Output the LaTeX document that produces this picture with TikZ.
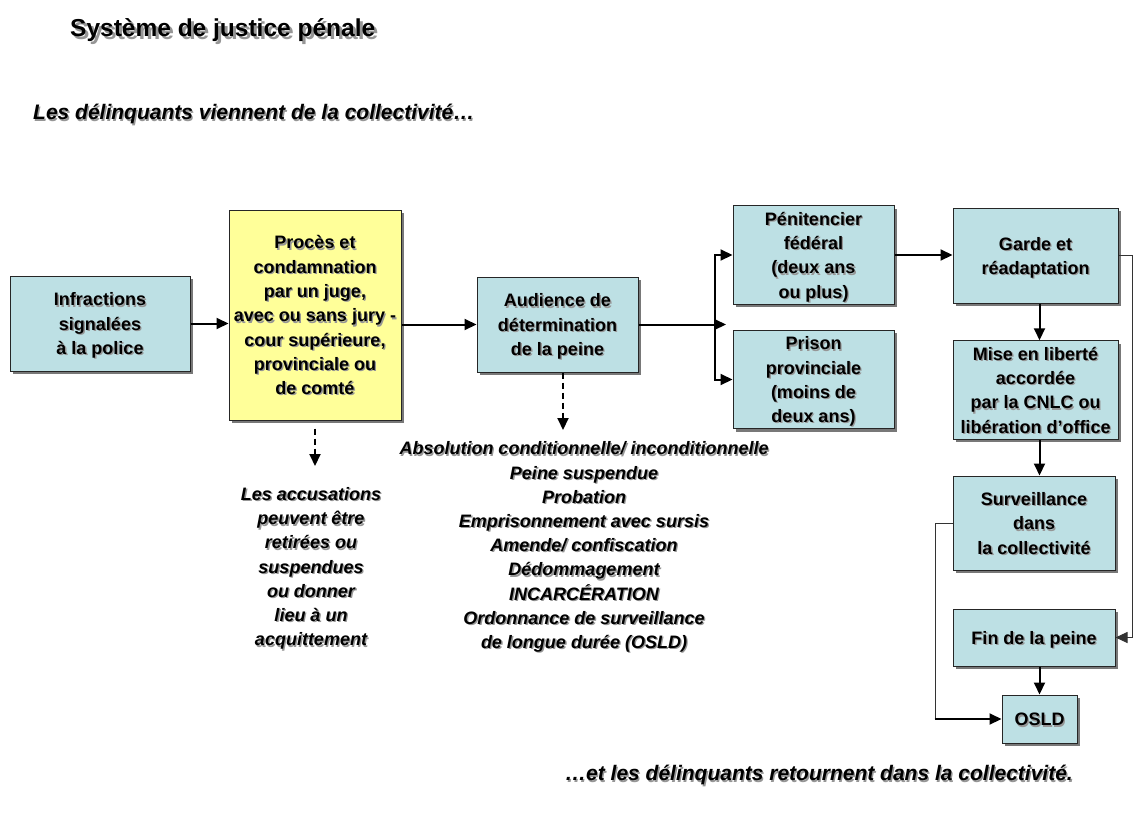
\documentclass[tikz,border=0pt]{standalone}
\usepackage{fontspec}
\setmainfont{Liberation Sans}
\usetikzlibrary{arrows.meta,shadows,calc}
\definecolor{boxblue}{RGB}{189,224,228}
\definecolor{boxyellow}{RGB}{255,255,153}
\definecolor{shadowgray}{RGB}{120,120,120}
\definecolor{txtshadow}{RGB}{150,150,150}
\newcommand\mlines[1]{\begin{tabular}[c]{@{}c@{}}#1\end{tabular}}
\newcommand\shtext[2][1.3pt]{\raisebox{-2.5pt}[\height][\depth]{\rlap{\kern#1\raisebox{-#1}{\color{txtshadow}\mlines{#2}}}\mlines{#2}}}
\tikzset{
  flowbox/.style={draw=black!85, line width=1pt, fill=boxblue,
    drop shadow={shadow xshift=3pt, shadow yshift=-3pt, fill=shadowgray, opacity=1},
    inner sep=0pt, font=\fontsize{18}{24.3}\selectfont\bfseries},
  yflowbox/.style={flowbox, fill=boxyellow},
  tip/.style={-{Triangle[length=12pt,width=11pt]}},
  conn/.style={line width=2pt, tip},
  plainc/.style={line width=2pt},
  thinc/.style={line width=1pt, draw=black!80},
  dashc/.style={conn, dash pattern=on 6pt off 4pt},
  lbl/.style={inner sep=0pt, font=\fontsize{18}{24.2}\selectfont\bfseries\itshape},
  headline/.style={inner sep=0pt, font=\fontsize{21}{25}\selectfont\bfseries\itshape},
}
\begin{document}
\begin{tikzpicture}[x=1pt,y=-1pt]
\fill[white] (0,0) rectangle (1138,838);
\useasboundingbox (0,0) rectangle (1138,838);

\node[anchor=west, inner sep=0pt, font=\fontsize{24.5}{28}\selectfont\bfseries] (title) at (70,30) {\shtext[3pt]{Système de justice pénale}};
\node[headline, anchor=west] (sub1) at (33,113) {\shtext{Les délinquants viennent de la collectivité…}};
\node[headline, anchor=east] (sub2) at (1073,774) {\shtext{…et les délinquants retournent dans la collectivité.}};

\node[flowbox, minimum width=180pt, minimum height=95pt] (inf) at (100,323.5) {\shtext{Infractions\\signalées\\à la police}};
\node[yflowbox, minimum width=172pt, minimum height=210pt] (proc) at (315,315) {\shtext{Procès et\\condamnation\\par un juge,\\avec ou sans jury -\\cour supérieure,\\provinciale ou\\de comté}};
\node[flowbox, minimum width=161pt, minimum height=95pt] (aud) at (557.5,324.5) {\shtext{Audience de\\détermination\\de la peine}};
\node[flowbox, minimum width=161pt, minimum height=96pt] (pen) at (813.5,255) {\shtext{Pénitencier\\fédéral\\(deux ans\\ou plus)}};
\node[flowbox, minimum width=161pt, minimum height=95pt] (pri) at (813.5,379.5) {\shtext{Prison\\provinciale\\(moins de\\deux ans)}};
\node[flowbox, minimum width=165pt, minimum height=95pt] (garde) at (1035.5,255.5) {\shtext{Garde et\\réadaptation}};
\node[flowbox, minimum width=165pt, minimum height=94pt] (mise) at (1035.5,390) {\shtext{Mise en liberté\\accordée\\par la CNLC ou\\libération d’office}};
\node[flowbox, minimum width=162pt, minimum height=94pt] (surv) at (1034,523) {\shtext{Surveillance\\dans\\la collectivité}};
\node[flowbox, minimum width=162pt, minimum height=57pt] (fin) at (1034,637.5) {\shtext{Fin de la peine}};
\node[flowbox, minimum width=75pt, minimum height=48pt] (osld) at (1039.5,719) {\shtext{OSLD}};

\node[lbl] (acc) at (311,566.5) {\shtext{Les accusations\\peuvent être\\retirées ou\\suspendues\\ou donner\\lieu à un\\acquittement}};
\node[lbl] (sent) at (584,545) {\shtext{Absolution conditionnelle/ inconditionnelle\\Peine suspendue\\Probation\\Emprisonnement avec sursis\\Amende/ confiscation\\Dédommagement\\INCARCÉRATION\\Ordonnance de surveillance\\de longue durée (OSLD)}};

\draw[conn] (inf.east) -- (inf.east -| proc.west);
\draw[conn] (aud.west -| proc.east) -- (aud.west);
\coordinate (spm) at (726,324.5);
\coordinate (sp1) at (715,255);
\coordinate (sp2) at (715,379.5);
\draw[conn] (aud.east) -- (spm);
\draw[plainc] (sp1) -- (sp2);
\draw[conn] ([xshift=-1pt]sp1) -- (pen.west);
\draw[conn] ([xshift=-1pt]sp2) -- (pri.west);
\draw[conn] (pen.east) -- (pen.east -| garde.west);
\draw[conn] (garde.south -| osld.north) -- (mise.north -| osld.north);
\draw[conn] (mise.south -| osld.north) -- (surv.north -| osld.north);
\draw[conn] (fin.south -| osld.north) -- (osld.north);
\coordinate (rc) at (1132,255.5);
\draw[thinc, tip] (garde.east) -- (rc) |- (fin.east);
\coordinate (lc) at (935,523);
\draw[thinc] (surv.west) -- (lc) -- (lc |- osld.west);
\draw[conn] ([xshift=-0.5pt]lc |- osld.west) -- (osld.west);
\coordinate (d1) at (315,466);
\draw[dashc] ([yshift=-8pt]proc.south) -- (d1);
\coordinate (d2) at (563,430);
\draw[dashc] (aud.south -| d2) -- (d2);
\end{tikzpicture}
\end{document}
